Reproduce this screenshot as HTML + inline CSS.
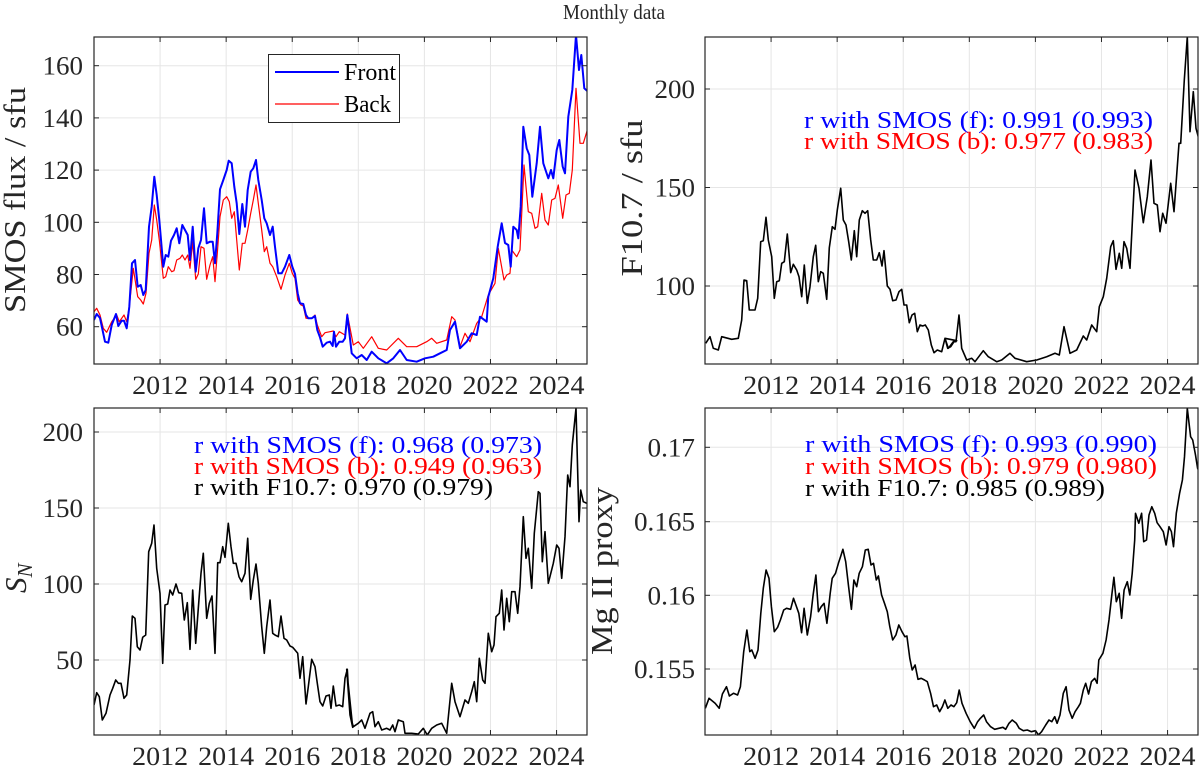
<!DOCTYPE html>
<html><head><meta charset="utf-8"><style>
html,body{margin:0;padding:0;background:#fff;}
svg{display:block;font-family:"Liberation Serif",serif;}
</style></head><body>
<svg id="s" width="1200" height="770" xmlns="http://www.w3.org/2000/svg"></svg>
<script>
const S=document.getElementById('s');let h='';
const PX=33.04;
function panel(L,T,R,B,yt){
  for(let y=2012;y<=2024;y+=2){const x=L+(y-2010)*PX;h+=`<line x1="${x}" y1="${T}" x2="${x}" y2="${B}" stroke="#e6e6e6" stroke-width="1"/>`;}
  yt.forEach(([v,y])=>{h+=`<line x1="${L}" y1="${y}" x2="${R}" y2="${y}" stroke="#e6e6e6" stroke-width="1"/>`;});
}
function frame(L,T,R,B,yt,lx){
  for(let y=2012;y<=2024;y+=2){const x=L+(y-2010)*PX;
    h+=`<line x1="${x}" y1="${T}" x2="${x}" y2="${T+5}" stroke="#262626"/><line x1="${x}" y1="${B}" x2="${x}" y2="${B-5}" stroke="#262626"/>`;
    h+=`<text x="${x-28}" y="${B+30}" font-size="26" textLength="56" lengthAdjust="spacingAndGlyphs" fill="#262626">${y}</text>`;}
  yt.forEach(([v,y])=>{h+=`<line x1="${L}" y1="${y}" x2="${L+5}" y2="${y}" stroke="#262626"/><line x1="${R}" y1="${y}" x2="${R-5}" y2="${y}" stroke="#262626"/>`;
    const s=String(v);const w=s.replace('.','').length*13.5+(s.includes('.')?7:0);
    h+=`<text x="${lx-w}" y="${y+9}" font-size="26" textLength="${w}" lengthAdjust="spacingAndGlyphs" fill="#262626">${s}</text>`;});
  h+=`<rect x="${L}" y="${T}" width="${R-L}" height="${B-T}" fill="none" stroke="#262626" stroke-width="1.2"/>`;
}
function line(pts,col,w,clip){h+=`<polyline clip-path="url(#${clip})" fill="none" stroke="${col}" stroke-width="${w}" stroke-linejoin="round" points="${pts.map(p=>p[0].toFixed(1)+','+p[1].toFixed(1)).join(' ')}"/>`;}
const tf=(a,ox,oy,sx,sy)=>a.map(p=>[ox+p[0]/sx,oy+p[1]/sy]);
h+=`<defs><clipPath id="c1"><rect x="94" y="37" width="493" height="327"/></clipPath><clipPath id="c2"><rect x="705" y="37" width="493" height="327"/></clipPath><clipPath id="c3"><rect x="94" y="408" width="493" height="327"/></clipPath><clipPath id="c4"><rect x="705" y="408" width="493" height="327"/></clipPath></defs>`;
const yTL=[60,80,100,120,140,160].map(v=>[v,326.7-(v-60)*2.61]);
const yTR=[100,150,200].map(v=>[v,286-(v-100)*1.97]);
const yBL=[50,100,150,200].map(v=>[v,660-(v-50)*1.52]);
const yBR=[['0.155',669],['0.16',595.3],['0.165',521.7],['0.17',447.3]];
panel(94,37,587,364,yTL);panel(705,37,1198,364,yTR);panel(94,408,587,735,yBL);panel(705,408,1198,735,yBR);
const f1=[[94,320],[96.7,314],[100,318],[105,341.7],[108.3,342.7],[111.7,325],[116,314],[118.3,326],[121.7,320.7],[124,320.7],[126.7,328.3],[129.3,306.7],[132,263.3],[135,260],[137.7,286.7],[140.7,285],[143.3,295],[145.7,290],[149,226.7],[151.7,206.7],[154.3,176.7],[156.7,195],[159.3,220],[163.3,266.7],[165.7,255],[168.3,256.7],[171,240.7],[174,235],[176.7,228.3],[179.3,243.3],[182.3,225],[185,230],[187.7,235],[190,260],[192.7,226.7],[195.7,271.7],[198.3,248.3],[201,240],[204,208.3],[206.7,243.3],[210,241.7],[212.7,241.7],[215,263.3],[217.3,233.3],[220,189.3],[223.3,180],[226.7,170],[228.7,160.7],[231.7,163.3],[234.3,186.7],[236.7,203.3],[239.3,234],[242.3,204],[245,226.7],[247.7,190],[250.7,171.7],[253.3,168.3],[256,160],[258.3,180],[261.7,200],[264.3,218.3],[266.7,223.3],[270,235],[272.7,226.7],[275,246.7],[278.3,273.3],[281.7,273.3],[285,266.7],[289.3,255],[292.3,266.7],[295,274],[297.7,293.3],[300,303.3],[303.3,304],[306,315],[308.3,318.3],[311.7,318.3],[315,316],[317.3,330],[320,337.3],[322.7,346.7],[326.7,342.7],[330,341.7],[332.7,346],[334,331.7],[336,346.7],[339.3,341.7],[342.7,341.7],[345,338.3],[347.3,315],[351.7,353.3],[356.7,358.3],[361.7,355],[366.7,360],[371.7,351.7],[378.3,358.3],[386.7,363.3],[393.3,358.3],[400,350],[406.7,360],[416.7,361.7],[425,358.3],[433.3,356.7],[440,353.3],[446.7,350],[450,330],[455,321.7],[460,348.3],[466.7,341.7],[471.7,333.3],[476.7,335],[480,316.7],[486.7,321.7],[488.3,296.7],[493.3,278.3],[497.7,246.7],[501.7,223.3],[505,243],[508.3,245],[510.7,266.7],[513.3,226.7],[516.7,230],[518.3,238.3],[520.7,206.7],[523.3,126.7],[526.7,148.3],[529.3,155],[532.3,196.7],[536.7,163.3],[540,126.7],[543.3,163.3],[548.3,178.3],[551,170],[553.3,178.3],[556.7,150],[559.3,140],[562.7,166.7],[565,173.3],[568.3,116.7],[572.3,90],[576,35],[579,70],[581.3,55],[584.3,88.3],[588,91.7]];
const b1=[[94,311.7],[96.7,308.3],[100,315],[103.3,328.3],[106.7,332.3],[111.7,321.7],[116.7,315],[119.3,321.7],[124,315],[126.7,321.7],[129.3,306.7],[133.3,268.3],[137.7,296.7],[140.7,300],[143.3,304],[146,293.3],[149,253.3],[151.7,240],[154.3,205],[156.7,220],[159.3,240],[163.3,278.3],[165.7,276.7],[168.3,266.7],[171.7,271.7],[174,270.7],[176.7,260],[180,258.3],[182.3,255],[185,260],[187.7,255],[190,268.3],[192.7,241.7],[195.7,279.3],[198.3,274],[201,246.7],[204,248.3],[206.7,279.3],[210,265],[212.7,256.7],[215,281.7],[217.3,253.3],[220,216.7],[223.3,200],[226.7,196.7],[229.3,201.7],[231.7,218.3],[234.3,211.7],[236.7,240],[239.3,270],[242.3,243.3],[245,243.3],[247.7,230],[250.7,213.3],[253.3,200],[256,185],[258.3,203.3],[261.7,230],[264.3,251.7],[266.7,246.7],[270,263.3],[272.7,266.7],[276.7,276.7],[281,289.3],[285,275],[289.3,263.3],[292.3,273.3],[295,278.3],[297.7,300],[301,305],[303.3,306],[306,318.3],[308.3,318.3],[311.7,318.3],[315,315],[317.3,325],[321.7,336.7],[325,332.7],[330,331.7],[333.3,331],[336,336.7],[339.3,331.7],[345,335],[347.3,314],[353.3,345],[358.3,341.7],[363.3,348.3],[371.7,336.7],[378.3,348.3],[386.7,350],[398.3,338.3],[406.7,346.7],[416.7,346.7],[426.7,341.7],[431.7,338.3],[436.7,343.3],[446.7,340],[451.7,316.7],[455,320],[460,346.7],[465,333.3],[470,341.7],[476.7,323.3],[481.7,316.7],[488.3,295],[495,283.3],[498.3,248.3],[504,280],[506.7,275],[510,273.3],[511.7,250],[516.7,256.7],[520,250],[524,165],[528.3,211.7],[531.7,213.3],[535,228.3],[537.7,226.7],[541.7,193.3],[545,220],[548.3,225],[551.7,200],[555,198.3],[558.3,185],[562.7,218.3],[566,195],[569.3,193.3],[572.3,170],[576,88.3],[580,143.3],[583.3,143.3],[587.3,130]];
line(b1,'#ff0000',1.2,'c1');line(f1,'#0000ff',2,'c1');
const tr1=[[317,970],[330,950],[340,985],[355,990],[365,950],[395,958],[415,955],[425,900],[432,780],[440,782],[448,870],[465,870],[473,835],[482,665],[490,662],[498,592],[505,660],[515,710],[523,835],[530,785],[538,782],[545,730],[553,725],[562,642],[572,758],[580,733],[590,750],[597,770],[605,830],[613,735],[622,850],[630,800],[640,710],[647,676],[655,785],[662,755],[670,760],[680,838],[688,683],[697,620],[705,628],[712,570],[722,505],[730,600],[738,615],[746,665],[754,720],[763,632],[770,710],[778,600],[787,572],[795,580],[803,572],[812,660],[820,720],[830,720],[838,698],[846,738],[852,692],[862,798],[870,808],[878,842],[888,840],[897,815],[905,808],[912,855],[920,855],[928,908],[936,885],[944,880],[952,935],[960,915],[968,918],[976,915],[985,930],[994,975],[1002,998],[1012,990],[1025,995],[1035,955],[1043,985],[1052,980],[1062,965],[1070,962]];
const tr2=[[15,925],[25,955],[40,935],[48,935],[57,855],[65,955],[80,990],[95,985],[105,995],[130,962],[145,980],[170,995],[185,990],[210,970],[225,985],[260,995],[290,990],[320,980],[345,970],[358,975],[372,890],[390,970],[410,960],[430,918],[440,930],[455,885],[470,905],[478,830],[490,800],[500,745],[512,650],[520,632],[528,718],[538,670],[545,715],[552,635],[560,655],[570,715],[585,420],[597,475],[610,578],[622,500],[633,390],[642,520],[652,525],[660,605],[668,550],[678,580],[692,460],[702,545],[717,340],[722,340],[733,150],[742,20],[750,305],[760,185],[768,295],[780,340]];
line(tf(tr1,600,20,3,3).concat(tf(tr2,940,30,3,3)),'#000',1.6,'c2');
const bl1=[[282,915],[290,878],[298,890],[307,960],[318,940],[330,885],[338,865],[347,840],[355,850],[363,850],[372,895],[380,885],[390,780],[397,648],[405,655],[412,740],[420,750],[428,712],[437,705],[446,455],[455,430],[462,375],[470,505],[480,580],[488,790],[495,615],[503,612],[510,570],[518,585],[528,552],[536,578],[545,580],[553,660],[562,608],[570,748],[578,570],[587,730],[595,625],[603,520],[610,460],[620,655],[628,610],[636,588],[645,760],[653,488],[660,488],[668,440],[675,472],[685,370],[693,440],[700,490],[708,490],[717,530],[725,545],[735,520],[743,415],[752,598],[760,540],[768,492],[775,550],[785,680],[793,760],[800,680],[810,600],[818,700],[825,705],[835,710],[843,648],[852,715],[860,720],[870,738],[878,742],[885,750],[893,760],[900,835],[908,770],[918,912],[925,860],[935,778],[945,800],[952,850],[960,905],[968,918],[978,888],[988,885],[993,925],[1000,858],[1008,918],[1018,915],[1028,920],[1035,835],[1042,808],[1050,945],[1058,982]];
const bl2=[[20,808],[30,945],[40,980],[55,970],[65,960],[75,985],[90,940],[98,935],[105,980],[115,965],[125,990],[140,985],[150,990],[158,975],[165,995],[175,960],[190,965],[195,1000],[215,1000],[235,1002],[250,985],[262,1005],[275,985],[290,975],[305,970],[320,1000],[335,850],[345,905],[360,950],[375,900],[385,910],[395,875],[403,845],[410,905],[418,775],[428,840],[435,850],[445,700],[455,755],[462,735],[468,650],[478,640],[485,570],[492,690],[500,595],[508,665],[515,575],[525,575],[533,640],[540,560],[550,350],[558,475],[565,445],[575,565],[583,400],[595,275],[600,280],[607,485],[615,395],[625,550],[640,490],[650,435],[657,445],[665,535],[675,410],[683,225],[690,260],[697,135],[708,25],[717,365],[722,270],[730,305],[740,310]];
line(tf(bl1,0,400,3,3).concat(tf(bl2,340,400,3,3)),'#000',1.6,'c3');
const br=[[356,1105],[365,1075],[380,1090],[390,1105],[398,1062],[408,1040],[415,1068],[425,1060],[435,1065],[442,1040],[450,935],[458,870],[465,935],[470,930],[478,955],[485,930],[492,820],[498,745],[505,690],[512,715],[518,800],[525,875],[533,862],[540,840],[548,810],[555,805],[565,808],[572,775],[578,795],[585,820],[592,878],[598,805],[606,885],[614,830],[620,765],[627,705],[633,815],[640,800],[647,790],[654,850],[662,760],[667,715],[675,700],[682,670],[688,648],[693,628],[700,665],[707,740],[714,808],[720,720],[727,740],[733,700],[741,680],[748,630],[755,628],[762,675],[768,670],[775,720],[780,708],[788,765],[795,790],[802,815],[808,860],[815,900],[823,885],[830,855],[838,875],[845,890],[850,888],[857,955],[863,990],[870,975],[877,1018],[885,1015],[893,1020],[900,1025],[908,1060],[915,1100],[923,1095],[930,1115],[937,1100],[943,1080],[950,1105],[958,1095],[965,1100],[972,1088],[978,1050],[985,1090],[995,1120],[1005,1145],[1015,1165],[1023,1145],[1030,1135],[1038,1125],[1045,1145],[1055,1160],[1065,1168],[1075,1165],[1085,1162],[1092,1168],[1100,1150],[1108,1140],[1118,1150],[1125,1165],[1135,1172],[1145,1170],[1155,1175],[1165,1172],[1172,1185],[1180,1175],[1190,1155],[1198,1140],[1205,1145],[1212,1130],[1218,1150],[1225,1125],[1233,1060],[1240,1040],[1247,1110],[1255,1135],[1262,1115],[1270,1100],[1275,1090],[1282,1050],[1288,1030],[1295,1062],[1302,1025],[1310,1015],[1316,1030],[1320,960],[1330,940],[1338,900],[1345,840],[1352,765],[1357,712],[1363,785],[1370,760],[1376,835],[1382,750],[1390,725],[1396,765],[1402,700],[1408,600],[1410,520],[1418,550],[1425,520],[1430,605],[1437,600],[1443,525],[1450,500],[1457,520],[1463,548],[1470,560],[1478,575],[1485,615],[1492,560],[1498,575],[1503,620],[1510,520],[1518,460],[1525,420],[1530,350],[1537,205],[1545,290],[1550,300],[1557,345],[1562,385],[1568,400]];
line(tf(br,560,340,2.45,3),'#000',1.6,'c4');
frame(94,37,587,364,yTL,83);frame(705,37,1198,364,yTR,695);frame(94,408,587,735,yBL,83);frame(705,408,1198,735,yBR,695);
h+=`<rect x="268.5" y="54.5" width="131" height="68" fill="#fff" stroke="#262626" stroke-width="1"/>`;
h+=`<line x1="275" y1="72" x2="339" y2="72" stroke="#0000ff" stroke-width="2"/><line x1="275" y1="104" x2="339" y2="104" stroke="#ff0000" stroke-width="1.2"/>`;
h+=`<text x="344" y="80" font-size="24" textLength="52" lengthAdjust="spacingAndGlyphs" fill="#000">Front</text><text x="344" y="112" font-size="24" textLength="47" lengthAdjust="spacingAndGlyphs" fill="#000">Back</text>`;
h+=`<text x="563" y="19" font-size="21" textLength="102" lengthAdjust="spacingAndGlyphs" fill="#262626">Monthly data</text>`;
const R=(x,yc,len,s,fs)=>{h+=`<text transform="translate(${x},${yc+len/2}) rotate(-90)" font-size="${fs}" textLength="${len}" lengthAdjust="spacingAndGlyphs" fill="#262626">${s}</text>`;};
R(25,200,226,'SMOS flux / sfu',31);
R(642,198,157,'F10.7 / sfu',31);
R(612,571,168,'Mg II proxy',31);
h+=`<text transform="translate(26,593) rotate(-90)" font-size="31" fill="#262626"><tspan font-style="italic">S</tspan><tspan font-size="21" font-style="italic" dy="6">N</tspan></text>`;
const T=(x,y,c,s,w)=>{h+=`<text x="${x}" y="${y}" font-size="24" textLength="${w}" lengthAdjust="spacingAndGlyphs" fill="${c}">${s}</text>`;};
T(804,128,'#0000ff','r with SMOS (f): 0.991 (0.993)',349);T(804,149,'#ff0000','r with SMOS (b): 0.977 (0.983)',349);
T(194,453,'#0000ff','r with SMOS (f): 0.968 (0.973)',348);T(194,474,'#ff0000','r with SMOS (b): 0.949 (0.963)',348);T(194,495,'#000','r with F10.7: 0.970 (0.979)',299);
T(805,452,'#0000ff','r with SMOS (f): 0.993 (0.990)',352);T(805,474,'#ff0000','r with SMOS (b): 0.979 (0.980)',352);T(805,496,'#000','r with F10.7: 0.985 (0.989)',300);
S.innerHTML=h;
</script>
</body></html>
